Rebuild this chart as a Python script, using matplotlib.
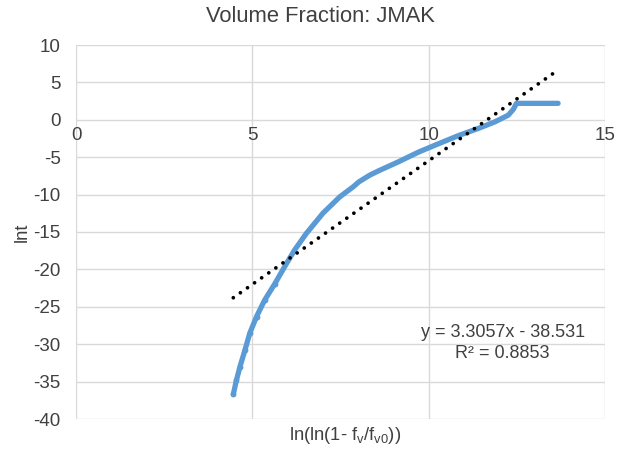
import matplotlib
matplotlib.use("Agg")
import matplotlib.pyplot as plt
import numpy as np

plt.rcParams['font.family'] = ['Liberation Sans', 'DejaVu Sans']
plt.rcParams['axes.unicode_minus'] = False

# Data
x_data = [4.46, 4.55, 4.65, 4.79, 4.93, 5.12, 5.35, 5.64, 5.97, 6.2, 6.53, 7.0, 7.48,
          7.86, 8.02, 8.33, 8.59, 9.15, 9.72, 10.28, 10.85, 11.41, 11.88, 12.26, 12.4,
          12.49, 12.8, 13.2, 13.67]
y_data = [-36.7, -34.8, -33.0, -30.8, -28.5, -26.3, -24.1, -21.9, -19.2, -17.4, -15.2,
          -12.5, -10.3, -8.96, -8.3, -7.4, -6.8, -5.6, -4.3, -3.2, -2.1, -1.15, -0.27,
          0.63, 1.4, 2.2, 2.2, 2.2, 2.2]
slope = 3.3057
intercept = -38.531
r2 = 0.8853
x_ticks = [0, 5, 10, 15]
y_ticks = [-40, -35, -30, -25, -20, -15, -10, -5, 0, 5, 10]

W, H = 632, 449
fig = plt.figure(figsize=(W / 100, H / 100), dpi=100)
ax = fig.add_axes([76 / W, 1 - 419 / H, (605 - 76) / W, (419 - 45) / H])

blue = '#5B9BD5'
ax.plot(x_data, y_data, color=blue, lw=3.8, solid_capstyle='round',
        solid_joinstyle='round', zorder=3)
ax.plot(x_data[:8], y_data[:8], 'o', color=blue, ms=4.2, mew=0, zorder=3)

xt = np.array([min(x_data), max(x_data)])
ax.plot(xt, slope * xt + intercept, color='black', lw=2.7,
        linestyle=(0, (0.01, 2.3)), dash_capstyle='round', zorder=4)

ax.set_xlim(0, 15)
ax.set_ylim(-40, 10)
ax.set_xticks(x_ticks)
ax.set_yticks(y_ticks)
ax.grid(True, color='#D9D9D9', lw=1)
ax.set_axisbelow(True)
for s in ax.spines.values():
    s.set_visible(False)
ax.spines['bottom'].set_position(('data', 0))
ax.tick_params(length=0, labelsize=13.5, colors='#404040', pad=11)
ax.tick_params(axis='x', pad=5)

fig.text(320 / W, 1 - 16 / H, 'Volume Fraction: JMAK', ha='center', va='center',
         fontsize=15.8, color='#404040')
fig.text(345 / W, 1 - 436 / H, r'ln(ln(1- f$_\mathregular{v}$/f$_\mathregular{v0}$))',
         ha='center', va='center', fontsize=13.2, color='#404040')
fig.text(22 / W, 1 - 232 / H, 'lnt', ha='center', va='center', rotation=90,
         fontsize=13.2, color='#404040')
ax.text(12.1, -28.4, f'y = {slope}x - {abs(intercept)}', ha='center', va='center',
        fontsize=13, color='#404040')
ax.text(12.1, -31.2, f'R² = {r2}', ha='center', va='center',
        fontsize=13, color='#404040')

fig.savefig('out.png', dpi=100)
